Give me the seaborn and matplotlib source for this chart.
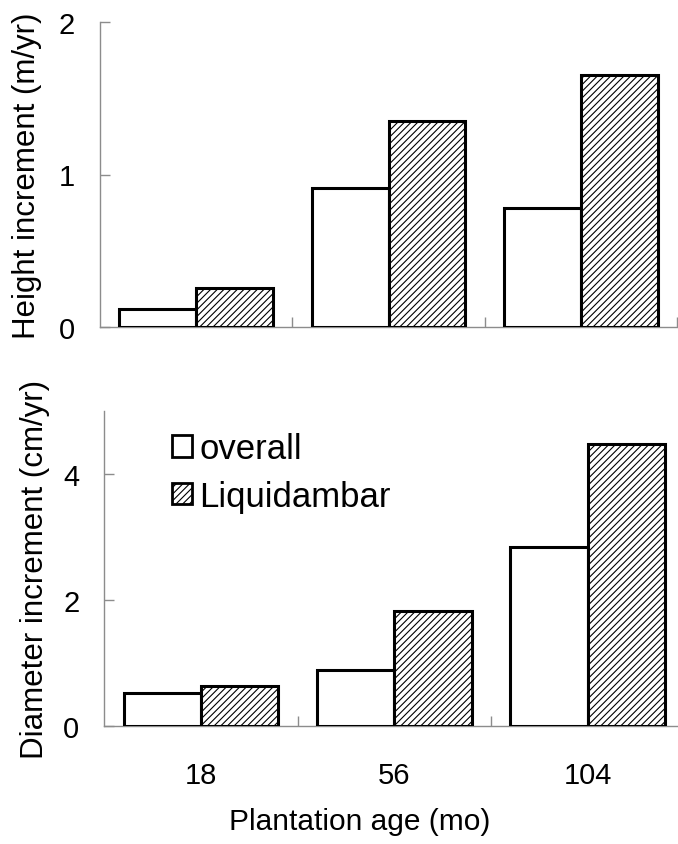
import matplotlib
matplotlib.use("Agg")
import matplotlib.pyplot as plt
import matplotlib.patches as mpatches
from matplotlib.ticker import FixedLocator
import seaborn as sns
import pandas as pd

# ---- data ----
ages = ["18", "56", "104"]
series = ["overall", "Liquidambar"]
height_overall = [0.12, 0.91, 0.78]
height_liq = [0.26, 1.35, 1.65]
diam_overall = [0.53, 0.89, 2.84]
diam_liq = [0.64, 1.82, 4.48]
height_ticks = [0, 1, 2]
diam_ticks = [0, 2, 4]

sns.set_theme(style="white")
plt.rcParams['font.family'] = ['Liberation Sans', 'DejaVu Sans']
plt.rcParams['hatch.linewidth'] = 0.8
plt.rcParams['text.color'] = 'black'
plt.rcParams['axes.labelcolor'] = 'black'
plt.rcParams['xtick.labelcolor'] = 'black'
plt.rcParams['ytick.labelcolor'] = 'black'

HATCH = "/////"
HCOL = "#4a4a4a"

def make_df(a, b):
    rows = []
    for i, g in enumerate(ages):
        rows.append({"age": g, "series": series[0], "value": a[i]})
        rows.append({"age": g, "series": series[1], "value": b[i]})
    return pd.DataFrame(rows)

fig = plt.figure(figsize=(6.78, 8.45), dpi=100)
W, H = 678, 845
ax1 = fig.add_axes([100 / W, 1 - 328.3 / H, 577 / W, (328.3 - 22.7) / H])
ax2 = fig.add_axes([104.3 / W, 1 - 727.3 / H, 580.2 / W, (727.3 - 411.7) / H])

grey = "#8c8c8c"

def draw(ax, a, b, ylim, ticks, ylabel, show_xlabels, labelx):
    df = make_df(a, b)
    sns.barplot(data=df, x="age", y="value", hue="series", order=ages,
                hue_order=series, palette=["white", "white"], errorbar=None,
                edgecolor="black", linewidth=2.2, width=0.8, ax=ax,
                legend=False, saturation=1)
    for bar in ax.containers[1]:
        bar.set_hatch(HATCH)
        if hasattr(bar, "set_hatchcolor"):
            bar.set_hatchcolor(HCOL)
    ax.set_xlim(-0.5, 2.5)
    ax.set_ylim(*ylim)
    ax.set_yticks(ticks)
    ax.set_yticklabels([str(t) for t in ticks])
    for s in ["top", "right"]:
        ax.spines[s].set_visible(False)
    for s in ["left", "bottom"]:
        ax.spines[s].set_color(grey)
        ax.spines[s].set_linewidth(1.0)
        ax.spines[s].set_zorder(0.5)
    ax.tick_params(axis="y", direction="in", length=7, width=1, color=grey,
                   labelsize=21, pad=18, left=True, labelcolor="black")
    ax.xaxis.set_minor_locator(FixedLocator([0.5, 1.5, 2.5]))
    ax.tick_params(axis="x", which="minor", direction="in", length=7,
                   width=1, color=grey, bottom=True)
    ax.tick_params(axis="x", which="major", length=0, labelsize=21, pad=25,
                   labelbottom=show_xlabels, labelcolor="black")
    ax.set_xlabel("")
    ax.set_ylabel(ylabel, fontsize=22.5, color="black")
    ax.yaxis.set_label_coords(labelx, 0.5)

draw(ax1, height_overall, height_liq, (0, 2), height_ticks,
     "Height increment (m/yr)", False, -0.10)
draw(ax2, diam_overall, diam_liq, (0, 5), diam_ticks,
     "Diameter increment (cm/yr)", True, -0.093)

h1 = mpatches.Patch(facecolor="white", edgecolor="black", linewidth=2.0)
h2 = mpatches.Patch(facecolor="white", edgecolor="black", linewidth=2.0,
                    hatch=HATCH)
if hasattr(h2, "set_hatchcolor"):
    h2.set_hatchcolor(HCOL)
leg = fig.legend([h1, h2], series, loc="upper left",
                 bbox_to_anchor=(172 / W, 1 - 433 / H), frameon=False,
                 fontsize=25, handlelength=0.58, handleheight=0.58,
                 handletextpad=0.2, labelspacing=0.42, borderpad=0,
                 borderaxespad=0, labelcolor="black")

fig.text(360 / W, 1 - 822 / H, "Plantation age (mo)", ha="center",
         va="center", fontsize=21.5, color="black")

fig.savefig("out.png", dpi=100)
